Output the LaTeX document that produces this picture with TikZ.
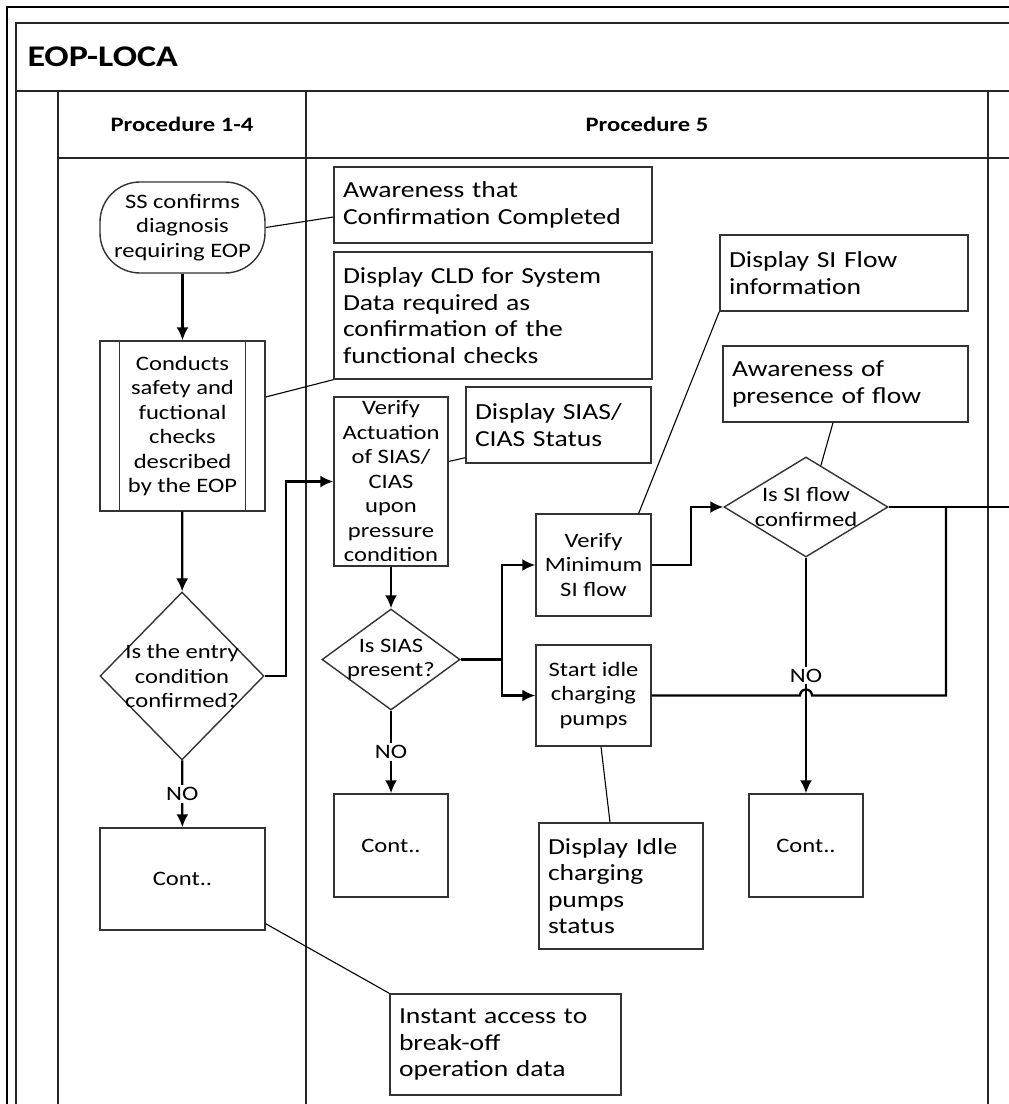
\documentclass[tikz,border=0pt]{standalone}
\usepackage{fontspec}
\setmainfont{Carlito}[FakeStretch=1.2]
\usetikzlibrary{shapes.geometric,calc,arrows.meta}

\begin{document}
\begin{tikzpicture}[>={Latex[length=13pt,width=12pt]}, x=1pt, y=-1pt,
  box/.style={draw=black!80, line width=1.4pt, inner sep=0pt, align=center, font=\fontsize{20.5}{24.5}\selectfont},
  note/.style={draw=black!80, line width=1.4pt, inner xsep=9pt, inner ysep=0pt, align=left, font=\fontsize{23}{26.5}\selectfont},
  decision/.style={diamond, draw=black!80, line width=1.4pt, inner sep=0pt},
  lbl/.style={align=center, font=\fontsize{20.5}{24.5}\selectfont},
  flow/.style={->, line width=2.3pt},
  link/.style={line width=1.1pt},
  lane/.style={line width=1.7pt, black!85}]
\useasboundingbox (0,0) rectangle (1009,1104);

\draw[line width=2.6pt] (7,1104)--(7,7)--(1009,7);
\draw[lane] (16,1104)--(16,23)--(1009,23);
\draw[lane] (16,91)--(1009,91);
\draw[lane] (58,158)--(1009,158);
\foreach \x in {58,306,988}
{
    \draw[lane] (\x,91)--(\x,1104);
}
\node[anchor=west, font=\bfseries\fontsize{30}{30}\selectfont] (title) at (24,57) {EOP-LOCA};
\node[font=\bfseries\fontsize{20.5}{20.5}\selectfont] (head1) at (182,124) {Procedure 1-4};
\node[font=\bfseries\fontsize{20.5}{20.5}\selectfont] (head2) at (647,124) {Procedure 5};

\node[box, rounded corners=40pt, minimum width=165pt, minimum height=91pt] (start) at (182.5,227.5) {SS confirms\\diagnosis\\requiring EOP};
\node[box, minimum width=165pt, minimum height=170pt] (conducts) at (182.5,426) {Conducts\\safety and\\fuctional\\checks\\described\\by the EOP};
\draw[draw=black!80, line width=1.4pt] ([xshift=20pt]conducts.north west)--([xshift=20pt]conducts.south west);
\draw[draw=black!80, line width=1.4pt] ([xshift=-20pt]conducts.north east)--([xshift=-20pt]conducts.south east);
\node[decision, minimum width=164pt, minimum height=168pt] (entry) at (182,676) {};
\node[lbl] (entrytext) at (entry) {Is the entry\\condition\\confirmed?};
\node[box, minimum width=165pt, minimum height=102pt] (cont1) at (182.5,879) {Cont..};

\node[note, text width=300pt, minimum height=76pt] (aware1) at (493,205) {Awareness that\\Confirmation Completed};
\node[note, text width=300pt, minimum height=127pt] (cld) at (493,315.5) {Display CLD for System\\Data required as\\confirmation of the\\functional checks};
\node[box, minimum width=114pt, minimum height=169pt] (verify) at (391,481.5) {Verify\\Actuation\\of SIAS/\\CIAS\\upon\\pressure\\condition};
\node[note, text width=167pt, minimum height=76pt] (siasbox) at (558.5,425) {Display SIAS/\\CIAS Status};
\node[decision, minimum width=138pt, minimum height=101pt] (sias) at (391,659.5) {};
\node[lbl] (siastext) at (sias) {Is SIAS\\present?};
\node[box, minimum width=114pt, minimum height=103pt] (cont2) at (391,845.5) {Cont..};

\node[box, minimum width=115pt, minimum height=102pt] (minflow) at (593.5,565) {Verify\\Minimum\\SI flow};
\node[box, minimum width=115pt, minimum height=101pt] (idle) at (593.5,695.5) {Start idle\\charging\\pumps};
\node[note, text width=230pt, minimum height=76pt] (siflowbox) at (844,273) {Display SI Flow\\information};
\node[note, text width=227pt, minimum height=76pt] (awareflow) at (845.5,384) {Awareness of\\presence of flow};
\node[decision, minimum width=164pt, minimum height=100pt] (siflow) at (806,507) {};
\node[lbl] (siflowtext) at (siflow) {Is SI flow\\confirmed};
\node[box, minimum width=114pt, minimum height=103pt] (cont3) at (806,845.5) {Cont..};
\node[note, text width=146pt, minimum height=126pt] (idlebox) at (621,886) {Display Idle\\charging\\pumps\\status};
\node[note, text width=213pt, minimum height=101pt] (instant) at (505.5,1044.5) {Instant access to\\break-off\\operation data};

\coordinate (bend1) at (286,676);
\coordinate (fork) at (502,659.5);
\coordinate (bend2) at (691,565);
\coordinate (join) at (946,507);
\coordinate (hop) at (806,695.5);
\coordinate (exit) at (1009,507);

\draw[flow] (start)--(conducts);
\draw[flow] (conducts)--(entry);
\draw[flow] (entry)--(cont1) node[midway, lbl, fill=white, inner sep=2pt] (no1) {NO};
\draw[flow] (entry.east)--(bend1) |- (verify.west);
\draw[flow] (verify)--(sias);
\draw[flow] (sias)--(cont2) node[midway, lbl, fill=white, inner sep=2pt] (no2) {NO};
\draw[flow] (sias.east)--(fork) |- (minflow.west);
\draw[flow] (fork) |- (idle.west);
\draw[flow] (minflow.east)--(bend2) |- (siflow.west);
\draw[flow] (siflow)--(cont3) node[midway, lbl, fill=white, inner sep=2pt] (no3) {NO};
\draw[flow, -] (siflow.east)--(exit);
\draw[flow, -] (idle.east)--([xshift=-6pt]hop) arc[start angle=180, end angle=0, radius=6pt]--(hop -| join)--(join);

\draw[link] (start.east)--([yshift=-12pt]aware1.west);
\draw[link] ([yshift=29pt]conducts.east)--(cld.south west);
\draw[link] ([yshift=20pt]verify.east)--([yshift=6pt]siasbox.south west);
\draw[link] ([xshift=-13pt]minflow.north east)--(siflowbox.south west);
\draw[link] ($(siflow.north)!0.18!(siflow.east)$)--([xshift=-12.5pt]awareflow.south);
\draw[link] ([xshift=7.5pt]idle.south)--([xshift=-11pt]idlebox.north);
\draw[link] ([yshift=7pt]cont1.south east)--(instant.north west);
\end{tikzpicture}
\end{document}
